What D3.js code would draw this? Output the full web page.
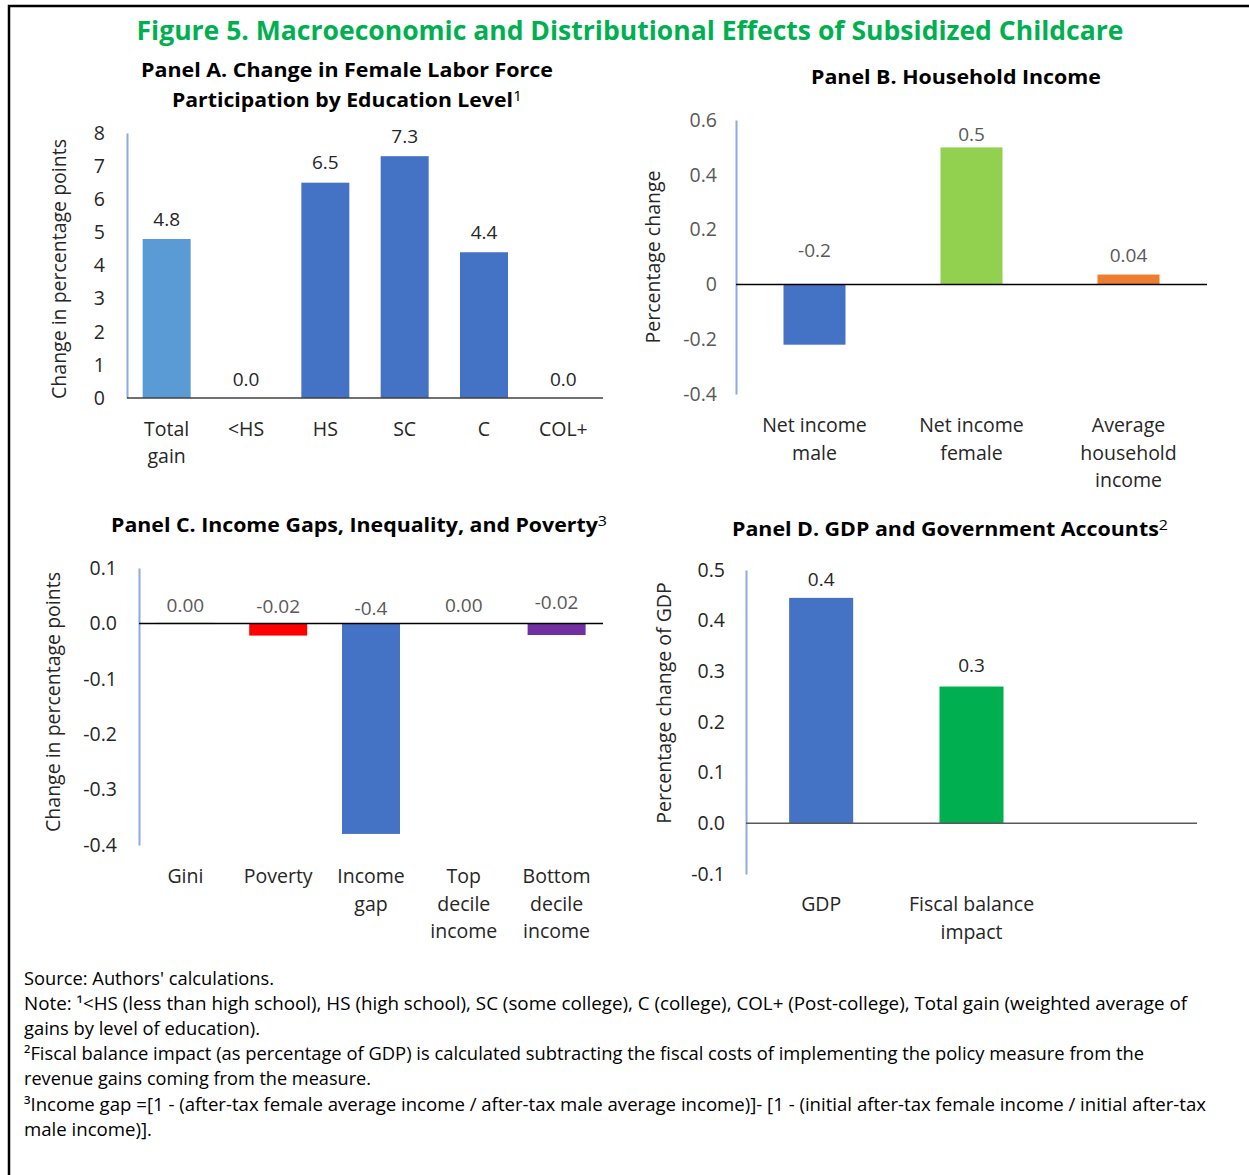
<!DOCTYPE html>
<html>
<head>
<meta charset="utf-8">
<script src="https://cdn.jsdelivr.net/npm/d3@7"></script>
<style>
  html, body { margin: 0; padding: 0; background: #fff; }
  svg { display: block; }
  text { font-family: 'Open Sans', 'Noto Sans', 'DejaVu Sans', sans-serif; }
</style>
</head>
<body>
<svg id="chart" width="1249" height="1175"></svg>
<script>
// ---- Panel A: female labour force participation by education ----
const eduCategories = ["Total\ngain", "<HS", "HS", "SC", "C", "COL+"];
const eduValues = [4.8, 0.0, 6.5, 7.3, 4.4, 0.0];
const eduLabelFormats = [".1f", ".1f", ".1f", ".1f", ".1f", ".1f"];
const eduTicks = [0, 1, 2, 3, 4, 5, 6, 7, 8];
const eduTickLabels = ["0", "1", "2", "3", "4", "5", "6", "7", "8"];

// ---- Panel B: household income ----
const incomeCategories = ["Net income\nmale", "Net income\nfemale", "Average\nhousehold\nincome"];
const incomeValues = [-0.22, 0.5, 0.036];
const incomeLabelFormats = [".1f", ".1f", ".2f"];
const incomeTicks = [-0.4, -0.2, 0, 0.2, 0.4, 0.6];
const incomeTickLabels = ["-0.4", "-0.2", "0", "0.2", "0.4", "0.6"];

// ---- Panel C: income gaps, inequality and poverty ----
const gapCategories = ["Gini", "Poverty", "Income\ngap", "Top\ndecile\nincome", "Bottom\ndecile\nincome"];
const gapValues = [0.001, -0.022, -0.38, 0.0, -0.021];
const gapLabelFormats = [".2f", ".2f", ".1f", ".2f", ".2f"];
const gapTicks = [-0.4, -0.3, -0.2, -0.1, 0.0, 0.1];
const gapTickLabels = ["-0.4", "-0.3", "-0.2", "-0.1", "0.0", "0.1"];

// ---- Panel D: GDP and government accounts ----
const gdpCategories = ["GDP", "Fiscal balance\nimpact", ""];
const gdpValues = [0.445, 0.27, null];
const gdpLabelFormats = [".1f", ".1f", ".1f"];
const gdpTicks = [-0.1, 0.0, 0.1, 0.2, 0.3, 0.4, 0.5];
const gdpTickLabels = ["-0.1", "0.0", "0.1", "0.2", "0.3", "0.4", "0.5"];

// ---- Notes under the figure ----
const noteLines = [
  "Source: Authors' calculations.",
  "Note: \u00B9<HS (less than high school), HS (high school), SC (some college), C (college), COL+ (Post-college), Total gain (weighted average of",
  "gains by level of education).",
  "\u00B2Fiscal balance impact (as percentage of GDP) is calculated subtracting the fiscal costs of implementing the policy measure from the",
  "revenue gains coming from the measure.",
  "\u00B3Income gap =[1 - (after-tax female average income / after-tax male average income)]- [1 - (initial after-tax female income / initial after-tax",
  "male income)]."
];
const noteWidths = [250, 1163, 236, 1120, 347, 1182, 128];

const locale = d3.formatLocale({decimal: ".", thousands: ",", grouping: [3], currency: ["$", ""], minus: "-"});
const svg = d3.select("#chart");

// frame around the figure
svg.append("path")
  .attr("d", "M9,1175 V6 H1249")
  .attr("fill", "none").attr("stroke", "#000").attr("stroke-width", 2.5);

// figure title
svg.append("text")
  .attr("x", 630).attr("y", 40)
  .attr("text-anchor", "middle")
  .attr("font-size", 27).attr("font-weight", 700)
  .attr("fill", "#00B050")
  .attr("textLength", 987).attr("lengthAdjust", "spacingAndGlyphs")
  .text("Figure 5. Macroeconomic and Distributional Effects of Subsidized Childcare");

function panelTitle(lines, cx, y0, widths) {
  lines.forEach((ln, i) => {
    const t = svg.append("text")
      .attr("x", cx).attr("y", y0 + i * 30)
      .attr("text-anchor", "middle")
      .attr("font-size", 20).attr("font-weight", 700).attr("fill", "#000")
      .attr("textLength", widths[i]).attr("lengthAdjust", "spacingAndGlyphs");
    t.append("tspan").text(ln.main);
    if (ln.sup) t.append("tspan").attr("font-weight", 400).attr("font-size", 15).attr("dy", -6).text(ln.sup);
  });
}

function barPanel(cfg) {
  const g = svg.append("g");
  const x = d3.scaleBand()
    .domain(cfg.categories.map((c, i) => i))
    .range([cfg.x0, cfg.x1])
    .paddingInner(cfg.pad).paddingOuter(cfg.pad / 2);
  const y = d3.scaleLinear().domain(cfg.domain).range([cfg.yBottom, cfg.yTop]);

  // bars
  g.selectAll("rect.bar")
    .data(cfg.values.map((v, i) => ({v, i})).filter(d => d.v !== null))
    .join("rect")
    .attr("class", "bar")
    .attr("x", d => x(d.i))
    .attr("width", x.bandwidth())
    .attr("y", d => y(Math.max(0, d.v)))
    .attr("height", d => Math.max(d.v === 0 ? 0 : 1.2, Math.abs(y(d.v) - y(0))))
    .attr("fill", d => cfg.colors[d.i]);

  // value axis
  const axis = d3.axisLeft(y)
    .tickValues(cfg.ticks)
    .tickFormat((d, i) => cfg.tickLabels[i])
    .tickSize(0).tickSizeOuter(0).tickPadding(cfg.tickPad);
  const ag = g.append("g").attr("transform", `translate(${cfg.x0},0)`).call(axis);
  ag.select(".domain").attr("stroke", "#8FAADC").attr("stroke-width", 2);
  ag.selectAll(".tick text")
    .attr("font-size", 19.5).attr("fill", cfg.tickColor)
    .style("font-family", "'Open Sans', 'Noto Sans', sans-serif");

  // zero line
  g.append("line")
    .attr("x1", cfg.x0).attr("x2", cfg.x1)
    .attr("y1", y(0)).attr("y2", y(0))
    .attr("stroke", cfg.zeroColor).attr("stroke-width", 1.5);

  // value labels
  cfg.values.forEach((v, i) => {
    if (v === null) return;
    g.append("text")
      .attr("x", x(i) + x.bandwidth() / 2)
      .attr("y", y(Math.max(0, v)) - cfg.labelGap[i])
      .attr("text-anchor", "middle")
      .attr("font-size", 19).attr("fill", cfg.labelColor)
      .text(locale.format(cfg.labelFormats[i])(v));
  });

  // category labels
  cfg.categories.forEach((c, i) => {
    const t = g.append("text")
      .attr("x", x(i) + x.bandwidth() / 2)
      .attr("y", cfg.catY)
      .attr("text-anchor", "middle")
      .attr("font-size", 19.5).attr("fill", cfg.catColor);
    c.split("\n").forEach((ln, j) => {
      t.append("tspan").attr("x", x(i) + x.bandwidth() / 2)
        .attr("dy", j === 0 ? 0 : cfg.lineH).text(ln);
    });
  });

  // axis title
  g.append("text")
    .attr("transform", `translate(${cfg.titleX},${cfg.titleY}) rotate(-90)`)
    .attr("text-anchor", "middle")
    .attr("dominant-baseline", "central")
    .attr("font-size", 19.5).attr("fill", "#262626")
    .text(cfg.axisTitle);
}

// Panel A
panelTitle([{main: "Panel A. Change in Female Labor Force"}, {main: "Participation by Education Level", sup: "1"}], 347, 77, [412, 350]);
barPanel({
  categories: eduCategories, values: eduValues, labelFormats: eduLabelFormats,
  ticks: eduTicks, tickLabels: eduTickLabels, domain: [0, 8],
  x0: 127, x1: 603, yBottom: 398, yTop: 133, pad: 0.395, tickPad: 22,
  colors: ["#5B9BD5", "#4472C4", "#4472C4", "#4472C4", "#4472C4", "#4472C4"],
  labelGap: [13, 12, 14, 13, 13, 12],
  tickColor: "#262626", labelColor: "#262626", catColor: "#262626", zeroColor: "#404040",
  catY: 436, lineH: 27, titleX: 58, titleY: 269, axisTitle: "Change in percentage points"
});

// Panel B
panelTitle([{main: "Panel B. Household  Income"}], 956, 84, [290]);
barPanel({
  categories: incomeCategories, values: incomeValues, labelFormats: incomeLabelFormats,
  ticks: incomeTicks, tickLabels: incomeTickLabels, domain: [-0.4, 0.6],
  x0: 736, x1: 1207, yBottom: 394, yTop: 120, pad: 0.605, tickPad: 19,
  colors: ["#4472C4", "#92D050", "#ED7D31"],
  labelGap: [27, 6, 13],
  tickColor: "#595959", labelColor: "#595959", catColor: "#262626", zeroColor: "#000",
  catY: 432, lineH: 27.5, titleX: 652, titleY: 257, axisTitle: "Percentage change"
});

// Panel C
panelTitle([{main: "Panel C. Income Gaps, Inequality, and Poverty", sup: "3"}], 359, 532, [496]);
barPanel({
  categories: gapCategories, values: gapValues, labelFormats: gapLabelFormats,
  ticks: gapTicks, tickLabels: gapTickLabels, domain: [-0.4, 0.1],
  x0: 139, x1: 603, yBottom: 845, yTop: 568, pad: 0.375, tickPad: 22,
  colors: ["#70AD47", "#FF0000", "#4472C4", "#A5A5A5", "#7030A0"],
  labelGap: [11, 10, 8, 11, 14],
  tickColor: "#262626", labelColor: "#595959", catColor: "#262626", zeroColor: "#000",
  catY: 883, lineH: 27.5, titleX: 52, titleY: 702, axisTitle: "Change in percentage points"
});

// Panel D
panelTitle([{main: "Panel D. GDP and Government Accounts", sup: "2"}], 950, 536, [436]);
barPanel({
  categories: gdpCategories, values: gdpValues, labelFormats: gdpLabelFormats,
  ticks: gdpTicks, tickLabels: gdpTickLabels, domain: [-0.1, 0.5],
  x0: 746, x1: 1197, yBottom: 874, yTop: 570, pad: 0.574, tickPad: 21,
  colors: ["#4472C4", "#00B050", "#A5A5A5"],
  labelGap: [12, 15, 12],
  tickColor: "#262626", labelColor: "#262626", catColor: "#262626", zeroColor: "#595959",
  catY: 911, lineH: 28, titleX: 663, titleY: 703, axisTitle: "Percentage change of GDP"
});

// notes
noteLines.forEach((ln, i) => {
  svg.append("text")
    .attr("x", 24).attr("y", 985 + i * 25.1)
    .attr("font-size", 17.5).attr("fill", "#000")
    .attr("textLength", noteWidths[i]).attr("lengthAdjust", "spacingAndGlyphs")
    .text(ln);
});
</script>
</body>
</html>
